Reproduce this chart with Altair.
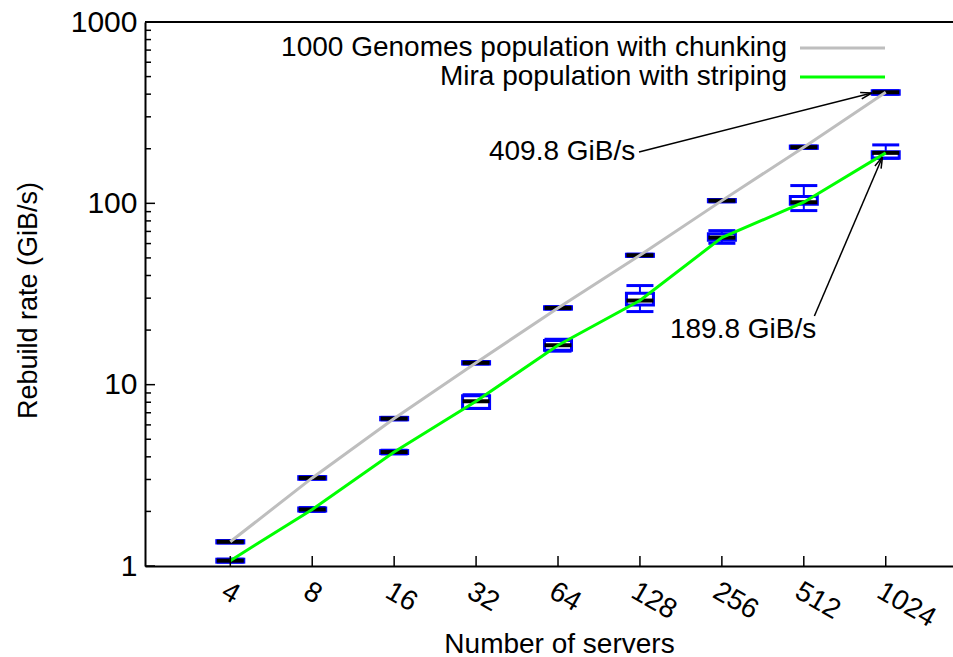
import math
import altair as alt
import pandas as pd

# ---------------- data ----------------
servers = [4, 8, 16, 32, 64, 128, 256, 512, 1024]

chunk_med = [1.36, 3.06, 6.5, 13.2, 26.5, 51.7, 103.5, 204, 409.8]
chunk_box_lo = [1.34, 3.01, 6.4, 13.0, 26.1, 51.0, 102.0, 201, 400]
chunk_box_hi = [1.38, 3.11, 6.6, 13.4, 26.9, 52.4, 105.0, 207, 418]
chunk_wh_lo = [1.34, 3.01, 6.4, 13.0, 26.1, 51.0, 102.0, 201, 400]
chunk_wh_hi = [1.38, 3.11, 6.6, 13.4, 26.9, 52.4, 105.0, 207, 418]

mira_med = [1.07, 2.05, 4.25, 8.1, 16.5, 29.1, 64.7, 101.4, 189.8]
mira_box_lo = [1.05, 2.01, 4.17, 7.4, 15.5, 27.5, 62.6, 98.9, 177.4]
mira_box_hi = [1.09, 2.09, 4.33, 8.7, 17.5, 31.9, 68.0, 108.9, 192.8]
mira_wh_lo = [1.05, 2.0, 4.15, 7.4, 15.3, 25.3, 60.2, 91.2, 177.4]
mira_wh_hi = [1.09, 2.1, 4.35, 8.8, 17.8, 35.2, 70.7, 125.3, 210.0]

series_names = ["1000 Genomes population with chunking", "Mira population with striping"]
series_colors = ["#bebebe", "#00ff00"]

y_major = [1, 10, 100, 1000]
y_minor = [2, 3, 4, 5, 6, 7, 8, 9, 20, 30, 40, 50, 60, 70, 80, 90, 200, 300, 400, 500, 600, 700, 800, 900]

# annotations: text, text x, text y, align, arrow tail (x, y), arrow tip (x, y)
ann_text = ["409.8 GiB/s", "189.8 GiB/s"]
ann_x = [123, 165]
ann_y = [192, 20.0]
ann_align = ["right", "left"]
arrow_x1 = [127, 560]
arrow_y1 = [192, 23.9]
arrow_x2 = [910, 996]
arrow_y2 = [406, 180]

# ---------------- layout ----------------
W, H = 808, 544
X_LO, X_HI = 2 ** 1.02, 2 ** 10.76
Y_LO, Y_HI = 1, 1000
FONT = "Liberation Sans"
FS = 28

xscale = alt.Scale(type="log", base=2, domain=[X_LO, X_HI], nice=False, zero=False)
yscale = alt.Scale(type="log", domain=[Y_LO, Y_HI], nice=False, zero=False)


def px(v):
    return (math.log2(v) - math.log2(X_LO)) / (math.log2(X_HI) - math.log2(X_LO)) * W


def py(v):
    return H - (math.log10(v) - math.log10(Y_LO)) / (math.log10(Y_HI) - math.log10(Y_LO)) * H


rows = []
for name, med, blo, bhi, wlo, whi in [
    (series_names[0], chunk_med, chunk_box_lo, chunk_box_hi, chunk_wh_lo, chunk_wh_hi),
    (series_names[1], mira_med, mira_box_lo, mira_box_hi, mira_wh_lo, mira_wh_hi),
]:
    for i, s in enumerate(servers):
        rows.append(dict(series=name, servers=s, med=med[i], blo=blo[i], bhi=bhi[i],
                         wlo=wlo[i], whi=whi[i]))
df = pd.DataFrame(rows)

x_axis = alt.Axis(values=servers, format="d", title="Number of servers",
                  ticks=False, grid=False, domain=True, domainColor="black",
                  domainWidth=2, labelAngle=30, labelAlign="left",
                  labelBaseline="top", labelPadding=11, labelFont=FONT,
                  labelFontSize=FS, labelColor="black", titleFont=FONT,
                  titleFontSize=FS, titleFontWeight="normal", titleColor="black",
                  titleX=414, titleY=92, titleAlign="center",
                  titleBaseline="bottom", labelFlush=False, labelOverlap=False)
y_axis = alt.Axis(values=y_major, format="d", title="Rebuild rate (GiB/s)",
                  ticks=False, grid=False, domain=True, domainColor="black",
                  domainWidth=2, labelPadding=8, labelFont=FONT, labelFontSize=30,
                  labelColor="black", titleFont=FONT, titleFontSize=27,
                  titleFontWeight="normal", titleColor="black", titleAngle=-90,
                  titleX=-117, titleY=H / 2 + 6, titleAlign="center",
                  titleBaseline="middle", labelFlush=False, labelOverlap=False)


def XF(field):
    return alt.X(field, scale=xscale, axis=x_axis)


def YF(field):
    return alt.Y(field, scale=yscale, axis=y_axis)


BOXW = 27
BLUE = "#0000ff"
boxes = alt.Chart(df).mark_bar(size=BOXW, fill="white", stroke=BLUE, strokeWidth=3,
                               opacity=1).encode(
    x=XF("servers:Q"), y=YF("blo:Q"), y2="bhi:Q")
wh_lo = alt.Chart(df).mark_rule(color=BLUE, strokeWidth=2, opacity=1).encode(
    x=XF("servers:Q"), y=YF("wlo:Q"), y2="blo:Q")
wh_hi = alt.Chart(df).mark_rule(color=BLUE, strokeWidth=2, opacity=1).encode(
    x=XF("servers:Q"), y=YF("bhi:Q"), y2="whi:Q")
cap_lo = alt.Chart(df).mark_tick(orient="horizontal", size=BOXW, thickness=3, color=BLUE,
                                 opacity=1).encode(
    x=XF("servers:Q"), y=YF("wlo:Q"))
cap_hi = alt.Chart(df).mark_tick(orient="horizontal", size=BOXW, thickness=3, color=BLUE,
                                 opacity=1).encode(
    x=XF("servers:Q"), y=YF("whi:Q"))
medians = alt.Chart(df).mark_tick(orient="horizontal", size=BOXW, thickness=4, color="black",
                                  opacity=1).encode(
    x=XF("servers:Q"), y=YF("med:Q"))

lines = alt.Chart(df).mark_line(strokeWidth=3).encode(
    x=XF("servers:Q"), y=YF("med:Q"),
    color=alt.Color("series:N", scale=alt.Scale(domain=series_names, range=series_colors),
                    legend=None),
    detail="series:N",
)

# axis ticks (inward, gnuplot style)
ymaj_df = pd.DataFrame({"v": y_major})
ymin_df = pd.DataFrame({"v": y_minor})
xt_df = pd.DataFrame({"v": servers})
ytick_major = alt.Chart(ymaj_df).mark_rule(color="black", strokeWidth=1.5).encode(
    y=YF("v:Q"), x=alt.value(0), x2=alt.value(10))
ytick_minor = alt.Chart(ymin_df).mark_rule(color="black", strokeWidth=1.5).encode(
    y=YF("v:Q"), x=alt.value(0), x2=alt.value(6))
xtick = alt.Chart(xt_df).mark_rule(color="black", strokeWidth=1.5).encode(
    x=XF("v:Q"), y=alt.value(H), y2=alt.value(H - 10))
top_border = alt.Chart(pd.DataFrame({"v": [0]})).mark_rule(color="black", strokeWidth=2).encode(
    x=alt.value(0), x2=alt.value(W), y=alt.value(0))

# legend (manual, gnuplot style)
LEG_TX = 642
LEG_YS = [26, 55]
legend_layers = []
for i, name in enumerate(series_names):
    ldf = pd.DataFrame({"series": [name]})
    legend_layers.append(
        alt.Chart(ldf).mark_text(align="right", baseline="middle", font=FONT,
                                 fontSize=FS, color="black").encode(
            x=alt.value(LEG_TX), y=alt.value(LEG_YS[i]), text="series:N"))
    legend_layers.append(
        alt.Chart(ldf).mark_rule(strokeWidth=3, color=series_colors[i]).encode(
            x=alt.value(LEG_TX + 13), x2=alt.value(LEG_TX + 98), y=alt.value(LEG_YS[i])))

# annotations
ann_df = pd.DataFrame({"text": ann_text, "x": ann_x, "y": ann_y, "align": ann_align})
ann_right = alt.Chart(ann_df[ann_df["align"] == "right"]).mark_text(
    align="right", baseline="middle", font=FONT, fontSize=FS, color="black").encode(
    x=XF("x:Q"), y=YF("y:Q"), text="text:N")
ann_left = alt.Chart(ann_df[ann_df["align"] == "left"]).mark_text(
    align="left", baseline="middle", font=FONT, fontSize=FS, color="black").encode(
    x=XF("x:Q"), y=YF("y:Q"), text="text:N")

angles = []
for i in range(len(arrow_x1)):
    dx = px(arrow_x2[i]) - px(arrow_x1[i])
    dy = py(arrow_y2[i]) - py(arrow_y1[i])
    angles.append(math.degrees(math.atan2(dx, -dy)) % 360)
arr_df = pd.DataFrame({"x1": arrow_x1, "y1": arrow_y1, "x2": arrow_x2, "y2": arrow_y2,
                       "ang": angles})
arrow_shafts = alt.Chart(arr_df).mark_rule(color="black", strokeWidth=1.5).encode(
    x=XF("x1:Q"), y=YF("y1:Q"), x2="x2:Q", y2="y2:Q")
arrow_heads = alt.Chart(arr_df).mark_point(
    shape="M0,0 L-0.3,1 M0,0 L0.3,1", filled=False, color="black", strokeWidth=1.5,
    size=500, opacity=1).encode(
    x=XF("x2:Q"), y=YF("y2:Q"),
    angle=alt.Angle("ang:Q", scale=None))

chart = alt.layer(
    boxes, wh_lo, wh_hi, cap_lo, cap_hi, medians, lines,
    ytick_major, ytick_minor, xtick, top_border,
    arrow_shafts, arrow_heads, ann_right, ann_left,
    *legend_layers,
).resolve_scale(y="shared", x="shared").properties(
    width=W, height=H,
    autosize=alt.AutoSizeParams(type="none"),
    padding={"left": 145, "top": 22, "right": 0, "bottom": 91},
    background="white",
).configure_view(stroke=None)

chart.save("out.html", embed_options={"renderer": "svg", "actions": False})
